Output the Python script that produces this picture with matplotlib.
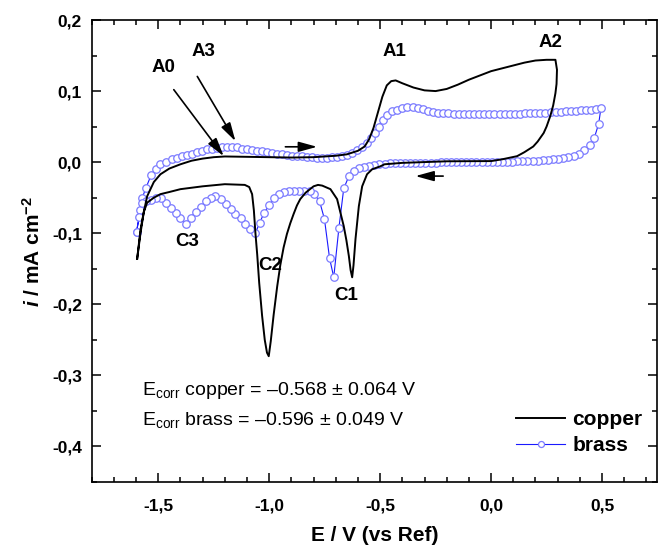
import matplotlib
matplotlib.use("Agg")
import matplotlib.pyplot as plt
from matplotlib.ticker import MultipleLocator, FuncFormatter

plt.rcParams["font.family"] = ["Liberation Sans", "DejaVu Sans"]
plt.rcParams["mathtext.fontset"] = "custom"
plt.rcParams["mathtext.rm"] = "Liberation Sans"
plt.rcParams["mathtext.it"] = "Liberation Sans:italic:bold"
plt.rcParams["mathtext.default"] = "regular"

# copper CV (anodic sweep, then reverse), E / V and i / mA cm-2
copper_E = [-1.595, -1.58, -1.565, -1.55, -1.52, -1.49, -1.45, -1.40, -1.35, -1.30,
            -1.25, -1.20, -1.10, -1.00, -0.90, -0.80, -0.70, -0.65, -0.60, -0.57,
            -0.55, -0.53, -0.51, -0.49, -0.47, -0.45, -0.43, -0.40, -0.35, -0.30,
            -0.25, -0.20, -0.15, -0.10, -0.05, 0.00, 0.05, 0.10, 0.15, 0.20,
            0.25, 0.29, 0.297, 0.295, 0.29, 0.28, 0.267, 0.25, 0.237, 0.21,
            0.19, 0.15, 0.117, 0.05, 0.00, -0.20, -0.40, -0.48, -0.50, -0.536,
            -0.559, -0.581, -0.596, -0.611, -0.62, -0.626, -0.633, -0.641, -0.652, -0.664,
            -0.694, -0.724, -0.761, -0.78, -0.80, -0.836, -0.86, -0.875, -0.89, -0.905,
            -0.92, -0.935, -0.95, -0.964, -0.98, -0.993, -1.002, -1.01, -1.02, -1.032,
            -1.045, -1.054, -1.062, -1.069, -1.077, -1.09, -1.11, -1.20, -1.30, -1.40,
            -1.45, -1.49, -1.52, -1.55, -1.565, -1.58, -1.595]
copper_i = [-0.136, -0.100, -0.070, -0.048, -0.028, -0.017, -0.009, -0.003, 0.002, 0.005,
            0.007, 0.008, 0.0075, 0.007, 0.0065, 0.007, 0.009, 0.011, 0.016, 0.022,
            0.032, 0.048, 0.070, 0.092, 0.108, 0.114, 0.115, 0.111, 0.105, 0.101,
            0.100, 0.103, 0.109, 0.116, 0.122, 0.128, 0.132, 0.136, 0.140, 0.143,
            0.144, 0.144, 0.130, 0.110, 0.097, 0.080, 0.065, 0.050, 0.041, 0.029,
            0.022, 0.014, 0.0084, 0.004, 0.0015, 0.0012, -0.001, -0.003, -0.006, -0.010,
            -0.017, -0.034, -0.062, -0.108, -0.145, -0.162, -0.152, -0.132, -0.110, -0.090,
            -0.052, -0.038, -0.033, -0.032, -0.034, -0.043, -0.052, -0.061, -0.073, -0.086,
            -0.101, -0.120, -0.145, -0.175, -0.215, -0.252, -0.273, -0.268, -0.250, -0.216,
            -0.170, -0.130, -0.100, -0.068, -0.045, -0.035, -0.032, -0.031, -0.034, -0.038,
            -0.042, -0.045, -0.050, -0.057, -0.070, -0.095, -0.136]

# brass CV, one marker per recorded point
brass_E = [-1.598, -1.582, -1.572, -1.555, -1.532, -1.512, -1.49, -1.463, -1.437, -1.414,
           -1.392, -1.369, -1.347, -1.324, -1.302, -1.279, -1.257, -1.234, -1.212, -1.189,
           -1.167, -1.144, -1.122, -1.099, -1.076, -1.054, -1.031, -1.009, -0.986, -0.964,
           -0.941, -0.919, -0.896, -0.874, -0.851, -0.829, -0.806, -0.784, -0.761, -0.739,
           -0.716, -0.694, -0.671, -0.649, -0.626, -0.604, -0.581, -0.559, -0.541, -0.524,
           -0.507, -0.489, -0.47, -0.448, -0.425, -0.401, -0.378, -0.354, -0.331, -0.308,
           -0.285, -0.262, -0.239, -0.215, -0.192, -0.169, -0.146, -0.123, -0.1, -0.077,
           -0.054, -0.031, -0.008, 0.015, 0.038, 0.061, 0.084, 0.107, 0.13, 0.153,
           0.176, 0.199, 0.222, 0.245, 0.268, 0.291, 0.314, 0.337, 0.36, 0.383,
           0.406, 0.429, 0.452, 0.475, 0.495,
           0.485, 0.465, 0.445, 0.42, 0.395, 0.372, 0.348, 0.325, 0.302, 0.279,
           0.256, 0.233, 0.21, 0.187, 0.164, 0.141, 0.118, 0.095, 0.072, 0.049,
           0.026, 0.003, -0.02, -0.043, -0.066, -0.089, -0.112, -0.135, -0.158, -0.181,
           -0.204, -0.227, -0.25, -0.273, -0.296, -0.319, -0.342, -0.365, -0.388, -0.411,
           -0.434, -0.457, -0.48, -0.503, -0.526, -0.549, -0.572, -0.595, -0.619, -0.641,
           -0.664, -0.686, -0.709, -0.728, -0.751, -0.773, -0.796, -0.817, -0.841, -0.864,
           -0.887, -0.91, -0.932, -0.955, -0.977, -1.0, -1.022, -1.043, -1.062, -1.085,
           -1.107, -1.129, -1.152, -1.174, -1.196, -1.219, -1.242, -1.264, -1.287, -1.309,
           -1.332, -1.354, -1.377, -1.40, -1.422, -1.444, -1.465, -1.487, -1.51, -1.532,
           -1.554, -1.572, -1.585, -1.598]
brass_i = [-0.098, -0.068, -0.050, -0.036, -0.018, -0.009, -0.003, 0.0006, 0.004, 0.0056,
           0.0084, 0.010, 0.012, 0.014, 0.016, 0.018, 0.019, 0.020, 0.021, 0.0216,
           0.0216, 0.021, 0.019, 0.018, 0.0172, 0.0162, 0.0152, 0.0142, 0.0128, 0.0118,
           0.0108, 0.0100, 0.0092, 0.0086, 0.008, 0.0074, 0.0068, 0.0062, 0.006, 0.0062,
           0.0068, 0.0078, 0.009, 0.0105, 0.013, 0.017, 0.021, 0.027, 0.034, 0.041,
           0.050, 0.060, 0.067, 0.0715, 0.074, 0.0762, 0.077, 0.077, 0.0762, 0.0745,
           0.0725, 0.071, 0.0695, 0.069, 0.0685, 0.068, 0.068, 0.0678, 0.0678, 0.0678,
           0.0678, 0.0678, 0.0679, 0.068, 0.068, 0.068, 0.0681, 0.0682, 0.0683, 0.0685,
           0.0687, 0.069, 0.0693, 0.0697, 0.070, 0.0705, 0.071, 0.0715, 0.072, 0.0725,
           0.073, 0.0735, 0.074, 0.0745, 0.076,
           0.054, 0.034, 0.024, 0.0165, 0.012, 0.009, 0.007, 0.0056, 0.0046, 0.0039,
           0.0033, 0.0028, 0.0023, 0.0019, 0.0016, 0.0013, 0.0011, 0.0009, 0.0007, 0.0005,
           0.0004, 0.0003, 0.0002, 0.0001, 0.0, 0.0, 0.0, 0.0, -0.0001, -0.0002,
           -0.0003, -0.0004, -0.0005, -0.0006, -0.0007, -0.0008, -0.0009, -0.001, -0.0011, -0.0012,
           -0.0014, -0.0016, -0.002, -0.0026, -0.0035, -0.005, -0.0075, -0.0085, -0.0126, -0.020,
           -0.037, -0.093, -0.162, -0.135, -0.080, -0.055, -0.045, -0.041, -0.040, -0.040,
           -0.040, -0.041, -0.042, -0.045, -0.051, -0.060, -0.071, -0.085, -0.100, -0.094,
           -0.087, -0.079, -0.073, -0.066, -0.059, -0.052, -0.048, -0.050, -0.055, -0.063,
           -0.070, -0.078, -0.087, -0.079, -0.071, -0.064, -0.057, -0.051, -0.050, -0.053,
           -0.055, -0.057, -0.077, -0.098]

fig = plt.figure(figsize=(6.61, 5.45), dpi=100)
ax = fig.add_axes([0.1387, 0.1156, 0.856, 0.8477])

ax.plot(copper_E, copper_i, color="black", lw=1.4, label="copper", zorder=3)
ax.plot(brass_E, brass_i, color="#1a1aff", lw=0.8, marker="o", markersize=5.4,
        markerfacecolor="white", markeredgecolor="#7b7bff", markeredgewidth=0.9,
        label="brass", zorder=2)

ax.set_xlim(-1.8, 0.75)
ax.set_ylim(-0.45, 0.2)
ax.xaxis.set_major_locator(MultipleLocator(0.5))
ax.xaxis.set_minor_locator(MultipleLocator(0.1))
ax.yaxis.set_major_locator(MultipleLocator(0.1))
ax.yaxis.set_minor_locator(MultipleLocator(0.05))

def comma(v, pos):
    if abs(v) < 1e-9:
        v = 0.0
    return f"{v:.1f}".replace(".", ",")

ax.xaxis.set_major_formatter(FuncFormatter(comma))
ax.yaxis.set_major_formatter(FuncFormatter(comma))
ax.tick_params(which="both", direction="in", top=True, right=True, width=1.1)
ax.tick_params(which="major", length=6.5, labelsize=12.5)
ax.tick_params(which="minor", length=3.5)
ax.tick_params(axis="x", which="major", pad=12)
ax.tick_params(axis="y", which="major", pad=7)
for lab in ax.get_xticklabels() + ax.get_yticklabels():
    lab.set_fontweight("bold")
for s in ax.spines.values():
    s.set_linewidth(1.2)

ax.set_xlabel("E / V (vs Ref)", fontsize=15, fontweight="bold", labelpad=9)
ax.set_ylabel(r"$\mathit{i}$ / mA cm$^{-2}$", fontsize=15, fontweight="bold", labelpad=6)

# peak labels
peaks = {"A0": (-1.478, 0.133), "A3": (-1.296, 0.155), "A1": (-0.436, 0.155),
         "A2": (0.267, 0.169), "C3": (-1.368, -0.111), "C2": (-0.994, -0.146),
         "C1": (-0.652, -0.187)}
for name, (x, y) in peaks.items():
    ax.text(x, y, name, fontsize=13.5, fontweight="bold", ha="center", va="center")

arrow = dict(arrowstyle="-|>,head_length=0.8,head_width=0.22", color="black",
             lw=1.2, shrinkA=0, shrinkB=0, mutation_scale=14)
ax.annotate("", xy=(-1.205, 0.0084), xytext=(-1.430, 0.102), arrowprops=arrow)
ax.annotate("", xy=(-1.152, 0.0295), xytext=(-1.324, 0.1206), arrowprops=arrow)
ax.annotate("", xy=(-0.784, 0.0216), xytext=(-0.927, 0.0216), arrowprops=arrow)
ax.annotate("", xy=(-0.341, -0.0196), xytext=(-0.216, -0.0196), arrowprops=arrow)

ax.text(-1.575, -0.328, "E$_{corr}$ copper = \u20130.568 \u00b1 0.064 V", fontsize=14)
ax.text(-1.575, -0.370, "E$_{corr}$ brass = \u20130.596 \u00b1 0.049 V", fontsize=14)

leg = ax.legend(loc="upper left", bbox_to_anchor=(0.7505, 0.156), frameon=False,
                borderpad=0, borderaxespad=0, handlelength=2.35, handletextpad=0.35,
                labelspacing=0.35, numpoints=1, markerscale=0.8,
                prop={"size": 15, "weight": "bold"})

fig.savefig("out.png", dpi=100)
